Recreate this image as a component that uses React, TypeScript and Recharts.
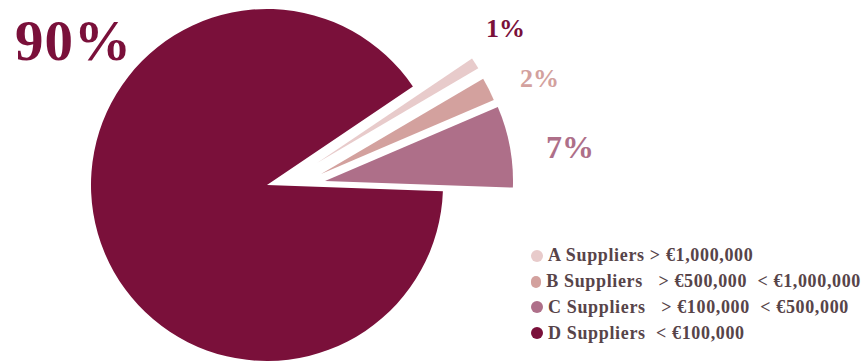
import { PieChart, Pie, Cell, Legend } from 'recharts'

const categories = ['A Suppliers', 'B Suppliers', 'C Suppliers', 'D Suppliers']
const thresholds = ['> €1,000,000', '  > €500,000  < €1,000,000', '  > €100,000  < €500,000', ' < €100,000']
const shares = [1, 2, 7, 90]
const shareLabels = ['1%', '2%', '7%', '90%']
const colors = ['#E8CBCB', '#D3A19E', '#AE6F89', '#7A103A']

const data = categories.map((name, i) => ({ name, value: shares[i] }))

const W = 861
const H = 364
const CX = 267
const CY = 185
const START = 34
const END = START - 360
// how far each slice is pulled out of the pie, and its radius
const explode = [
  { dx: 50, dy: -22 },
  { dx: 54, dy: -11 },
  { dx: 58, dy: -4 },
  { dx: 0, dy: 0 },
]
const radii = [187, 188, 188, 176]

// label placement (x, baseline y, font size)
const labelPos = [
  { x: 486, y: 37, size: 26 },
  { x: 520, y: 87, size: 26 },
  { x: 546, y: 158, size: 32 },
  { x: 15, y: 60, size: 57 },
]
const labelColors = [colors[3], colors[1], colors[2], colors[3]]

const FONT = '"Liberation Serif", "DejaVu Serif", serif'
const TEXT = '#574449'

function SupplierLegend() {
  return (
    <div style={{ fontFamily: FONT, fontSize: 18, fontWeight: 700, color: TEXT, letterSpacing: 0.65 }}>
      {categories.map((c, i) => (
        <div key={c} style={{ display: 'flex', alignItems: 'center', height: 25.8, whiteSpace: 'pre' }}>
          <span
            style={{ width: 12, height: 12, borderRadius: 6, background: colors[i], marginRight: 5, display: 'inline-block' }}
          />
          <span>{c} {thresholds[i]}</span>
        </div>
      ))}
    </div>
  )
}

export default function App() {
  return (
    <div style={{ position: 'relative', width: W, height: H, background: '#fff' }}>
      <style>{'body{margin:0}'}</style>
      <PieChart width={W} height={H} margin={{ top: 0, right: 0, bottom: 0, left: 0 }}>
        {data.map((d, idx) => (
          <Pie
            key={d.name}
            data={data}
            dataKey="value"
            cx={CX + explode[idx].dx}
            cy={CY + explode[idx].dy}
            innerRadius={0}
            outerRadius={radii[idx]}
            startAngle={START}
            endAngle={END}
            stroke="none"
            isAnimationActive={false}
          >
            {data.map((e, j) => (
              <Cell key={e.name} fill={j === idx ? colors[j] : 'transparent'} stroke="none" />
            ))}
          </Pie>
        ))}
        <Legend
          layout="vertical"
          content={<SupplierLegend />}
          wrapperStyle={{ left: 531, top: 243, width: 330 }}
        />
      </PieChart>
      <svg width={W} height={H} style={{ position: 'absolute', left: 0, top: 0, pointerEvents: 'none' }}>
        {shareLabels.map((t, i) => (
          <text
            key={t}
            x={labelPos[i].x}
            y={labelPos[i].y}
            fontFamily={FONT}
            fontWeight={700}
            fontSize={labelPos[i].size}
            letterSpacing={i === 3 ? 1 : 0}
            fill={labelColors[i]}
          >
            {t}
          </text>
        ))}
      </svg>
    </div>
  )
}
